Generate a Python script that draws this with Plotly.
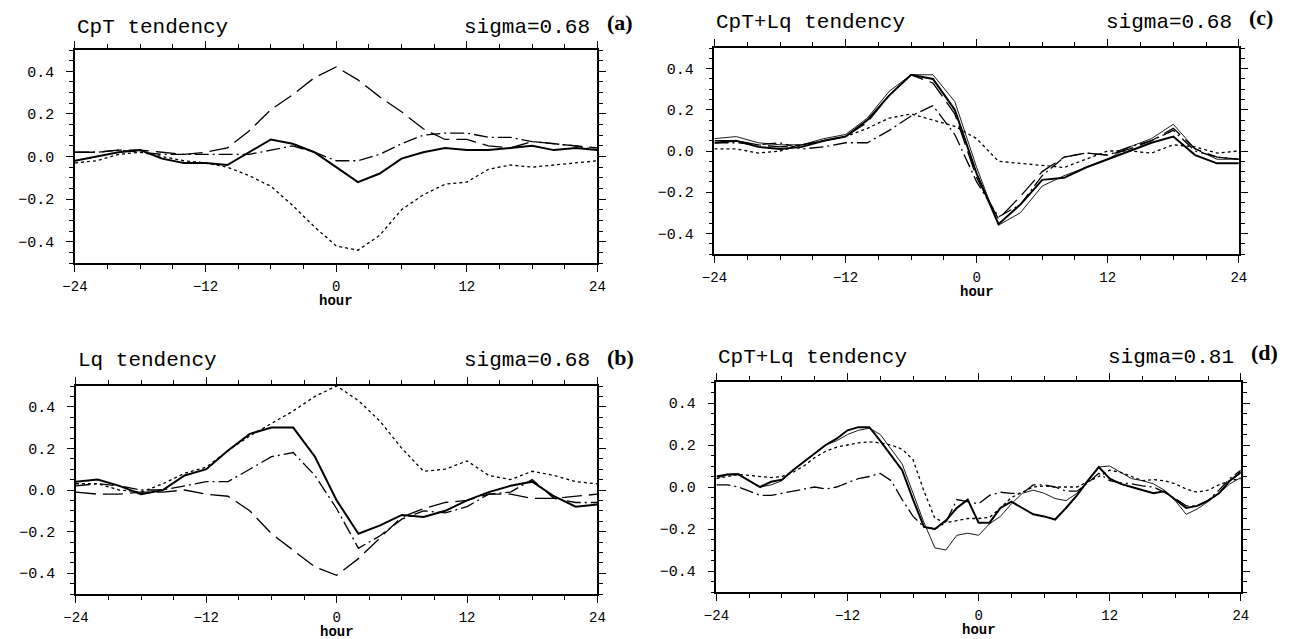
import plotly.graph_objects as go

# ---------------- data ----------------
hours_2h = list(range(-24, 25, 2))
hours_1h = list(range(-24, 25))

x_tick_vals = [-24, -12, 0, 12, 24]
x_tick_text = ["\u221224", "\u221212", "0", "12", "24"]
y_tick_vals = [-0.4, -0.2, 0.0, 0.2, 0.4]
y_tick_text = ["\u22120.4", "\u22120.2", "0.0", "0.2", "0.4"]

titles = ["CpT tendency", "CpT+Lq tendency", "Lq tendency", "CpT+Lq tendency"]
sigmas = ["sigma=0.68", "sigma=0.68", "sigma=0.68", "sigma=0.81"]
letters = ["(a)", "(c)", "(b)", "(d)"]

# (a) CpT tendency, sigma=0.68
a_dash = [0.02, 0.02, 0.03, 0.03, 0.02, 0.01, 0.02, 0.04, 0.12, 0.22, 0.29, 0.37, 0.42,
          0.36, 0.28, 0.21, 0.13, 0.08, 0.08, 0.05, 0.04, 0.07, 0.06, 0.05, 0.04]
a_solid = [-0.02, 0.0, 0.02, 0.03, -0.01, -0.03, -0.03, -0.04, 0.02, 0.08, 0.06, 0.02, -0.05,
           -0.12, -0.08, -0.01, 0.02, 0.04, 0.03, 0.03, 0.04, 0.05, 0.03, 0.04, 0.03]
a_dot = [-0.03, -0.02, 0.01, 0.02, 0.0, -0.02, -0.03, -0.05, -0.09, -0.14, -0.23, -0.33, -0.42,
         -0.44, -0.37, -0.25, -0.18, -0.13, -0.12, -0.06, -0.04, -0.05, -0.04, -0.03, -0.02]
a_dashdot = [0.02, 0.02, 0.03, 0.02, 0.01, 0.01, 0.01, 0.01, 0.01, 0.03, 0.05, 0.02, -0.02,
             -0.02, 0.01, 0.06, 0.10, 0.11, 0.11, 0.09, 0.09, 0.07, 0.06, 0.05, 0.03]

# (b) Lq tendency, sigma=0.68
b_solid = [0.04, 0.05, 0.02, -0.02, 0.0, 0.07, 0.10, 0.19, 0.27, 0.30, 0.30, 0.16, -0.05,
           -0.21, -0.17, -0.12, -0.13, -0.10, -0.05, -0.01, 0.02, 0.04, -0.03, -0.08, -0.07]
b_dot = [0.03, 0.03, 0.0, -0.01, 0.03, 0.08, 0.11, 0.19, 0.26, 0.32, 0.38, 0.45, 0.50,
         0.43, 0.33, 0.20, 0.09, 0.10, 0.14, 0.07, 0.05, 0.09, 0.07, 0.04, 0.03]
b_dash = [-0.01, -0.02, -0.02, -0.01, -0.01, 0.0, -0.02, -0.03, -0.10, -0.21, -0.29, -0.37, -0.41,
          -0.33, -0.23, -0.13, -0.09, -0.06, -0.05, -0.02, -0.02, -0.04, -0.04, -0.03, -0.02]
b_dashdot = [0.02, 0.03, 0.02, 0.0, 0.0, 0.02, 0.04, 0.04, 0.10, 0.16, 0.18, 0.07, -0.09,
             -0.28, -0.22, -0.14, -0.10, -0.11, -0.08, -0.02, -0.01, 0.05, -0.04, -0.06, -0.06]

# (c) CpT+Lq tendency, sigma=0.68
c_thick = [0.04, 0.05, 0.02, 0.01, 0.02, 0.05, 0.07, 0.15, 0.27, 0.37, 0.35, 0.20, -0.11,
           -0.355, -0.26, -0.14, -0.13, -0.08, -0.04, 0.0, 0.04, 0.07, -0.02, -0.06, -0.06]
c_thin = [0.06, 0.07, 0.04, 0.03, 0.03, 0.06, 0.08, 0.16, 0.29, 0.37, 0.37, 0.24, -0.08,
          -0.36, -0.30, -0.17, -0.12, -0.08, -0.04, 0.02, 0.06, 0.13, 0.01, -0.04, -0.04]
c_dash = [0.05, 0.05, 0.03, 0.02, 0.03, 0.05, 0.07, 0.14, 0.27, 0.37, 0.33, 0.18, -0.13,
          -0.33, -0.22, -0.10, -0.03, -0.01, -0.02, 0.01, 0.05, 0.11, 0.01, -0.03, -0.04]
c_dashdot = [0.04, 0.04, 0.03, 0.04, 0.01, 0.02, 0.04, 0.04, 0.10, 0.17, 0.22, 0.08, -0.15,
             -0.32, -0.26, -0.12, -0.03, -0.01, -0.02, 0.02, 0.05, 0.10, 0.0, -0.03, -0.04]
c_dot = [0.01, 0.01, -0.01, 0.0, 0.03, 0.05, 0.07, 0.11, 0.16, 0.18, 0.15, 0.12, 0.06,
         -0.05, -0.06, -0.07, -0.08, -0.04, 0.0, 0.0, -0.01, 0.03, 0.02, -0.01, 0.0]

# (d) CpT+Lq tendency, sigma=0.81 (hourly)
d_thick = [0.05, 0.06, 0.06, 0.03, 0.0, 0.025, 0.035, 0.08, 0.12, 0.16,
           0.20, 0.23, 0.27, 0.285, 0.285, 0.22, 0.15, 0.08, -0.06, -0.19,
           -0.20, -0.16, -0.10, -0.06, -0.17, -0.17, -0.10, -0.07, -0.10, -0.13,
           -0.14, -0.155, -0.10, -0.04, 0.03, 0.095, 0.04, 0.015, 0.0, -0.015,
           -0.03, -0.02, -0.06, -0.10, -0.09, -0.065, -0.03, 0.03, 0.07]
d_thin = [0.04, 0.06, 0.065, 0.03, 0.0, 0.01, 0.03, 0.08, 0.12, 0.16,
          0.20, 0.22, 0.25, 0.27, 0.28, 0.25, 0.18, 0.11, -0.03, -0.17,
          -0.29, -0.30, -0.23, -0.22, -0.23, -0.175, -0.14, -0.08, -0.03, -0.015,
          -0.03, -0.055, -0.065, -0.03, 0.03, 0.095, 0.10, 0.07, 0.04, 0.03,
          0.015, -0.015, -0.065, -0.13, -0.105, -0.07, -0.03, 0.015, 0.045]
d_dot = [0.04, 0.05, 0.06, 0.055, 0.05, 0.045, 0.05, 0.07, 0.10, 0.14,
         0.17, 0.19, 0.20, 0.21, 0.215, 0.21, 0.20, 0.18, 0.13, -0.02,
         -0.15, -0.17, -0.16, -0.15, -0.15, -0.145, -0.10, -0.05, -0.025, 0.0,
         0.005, 0.0, 0.0, 0.0, 0.025, 0.05, 0.08, 0.07, 0.05, 0.03,
         0.035, 0.03, 0.015, -0.01, -0.025, -0.015, 0.01, 0.03, 0.04]
d_dashdot = [0.01, 0.01, 0.0, -0.02, -0.04, -0.04, -0.03, -0.02, -0.01, 0.0,
             -0.01, 0.0, 0.02, 0.04, 0.05, 0.065, 0.03, -0.06, -0.14, -0.19,
             -0.20, -0.17, -0.06, -0.07, -0.08, -0.04, -0.025, -0.03, -0.03, 0.01,
             0.01, 0.0, -0.02, -0.02, 0.02, 0.065, 0.03, 0.02, 0.015, 0.005,
             0.0, -0.025, -0.055, -0.09, -0.09, -0.065, -0.015, 0.04, 0.08]

# ---------------- styles & layout ----------------
STYLE = {
    "thick": dict(width=2.0, dash="solid"),
    "thin": dict(width=0.9, dash="solid"),
    "dash": dict(width=1.3, dash="20px,7px"),
    "dot": dict(width=1.3, dash="3px,3px"),
    "dashdot": dict(width=1.3, dash="14px,4px,2px,4px"),
}

series = [
    (1, hours_2h, a_dash, "dash"), (1, hours_2h, a_solid, "thick"),
    (1, hours_2h, a_dot, "dot"), (1, hours_2h, a_dashdot, "dashdot"),
    (2, hours_2h, c_thick, "thick"), (2, hours_2h, c_thin, "thin"),
    (2, hours_2h, c_dash, "dash"), (2, hours_2h, c_dashdot, "dashdot"),
    (2, hours_2h, c_dot, "dot"),
    (3, hours_2h, b_solid, "thick"), (3, hours_2h, b_dot, "dot"),
    (3, hours_2h, b_dash, "dash"), (3, hours_2h, b_dashdot, "dashdot"),
    (4, hours_1h, d_thick, "thick"), (4, hours_1h, d_thin, "thin"),
    (4, hours_1h, d_dot, "dot"), (4, hours_1h, d_dashdot, "dashdot"),
]

W, H = 1298, 639
# panel boxes in pixels: left, right, top, bottom
boxes = [(63, 594, 50, 263), (713, 1246, 48, 254), (64, 594, 386, 594), (715, 1248, 382, 592)]
title_y = [28, 22, 360, 357]
letter_y = [22, 17, 357, 352]

MONO = "Liberation Mono"
fig = go.Figure()
for p, xs, ys, st in series:
    sfx = "" if p == 1 else str(p)
    fig.add_trace(go.Scatter(x=xs, y=ys, mode="lines", xaxis="x" + sfx, yaxis="y" + sfx,
                             line=dict(color="black", **STYLE[st]), hoverinfo="skip"))

layout = dict(width=W, height=H, margin=dict(l=0, r=0, t=0, b=0),
              paper_bgcolor="white", plot_bgcolor="white", showlegend=False)
annotations = []
for i, (l, r, t, b) in enumerate(boxes):
    sfx = "" if i == 0 else str(i + 1)
    xd = [l / W, r / W]
    yd = [1 - b / H, 1 - t / H]
    common = dict(showline=True, linecolor="black", linewidth=1.5, mirror="ticks",
                  ticks="outside", ticklen=7, tickwidth=1.2, tickcolor="black",
                  showgrid=False, zeroline=False)
    layout["xaxis" + sfx] = dict(domain=xd, anchor="y" + sfx, range=[-24, 24],
                                 tickmode="array", tickvals=x_tick_vals, ticktext=x_tick_text,
                                 ticklabelstandoff=2,
                                 tickfont=dict(family=MONO, size=14, color="black"),
                                 minor=dict(tickmode="linear", tick0=-24, dtick=3, ticklen=4,
                                            ticks="outside", tickcolor="black", tickwidth=1),
                                 **common)
    layout["yaxis" + sfx] = dict(domain=yd, anchor="x" + sfx, range=[-0.5, 0.5],
                                 tickmode="array", tickvals=y_tick_vals, ticktext=y_tick_text,
                                 ticklabelstandoff=9,
                                 tickfont=dict(family=MONO, size=15, color="black"),
                                 minor=dict(tickmode="linear", tick0=0, dtick=0.05, ticklen=4,
                                            ticks="outside", tickcolor="black", tickwidth=1),
                                 **common)
    annotations.append(dict(text=titles[i], x=l / W, y=1 - title_y[i] / H, xref="paper", yref="paper",
                            xanchor="left", yanchor="middle", showarrow=False,
                            font=dict(family=MONO, size=21, color="black")))
    annotations.append(dict(text=sigmas[i], x=(r - 5) / W, y=1 - title_y[i] / H, xref="paper", yref="paper",
                            xanchor="right", yanchor="middle", showarrow=False,
                            font=dict(family=MONO, size=21, color="black")))
    annotations.append(dict(text="<b>" + letters[i] + "</b>", x=(r + 8) / W, y=1 - letter_y[i] / H,
                            xref="paper", yref="paper", xanchor="left", yanchor="middle", showarrow=False,
                            font=dict(family="Liberation Serif", size=22, color="black")))
    annotations.append(dict(text="<b>hour</b>", x=(l + r) / 2 / W, y=1 - (b + 38) / H, xref="paper",
                            yref="paper", xanchor="center", yanchor="middle", showarrow=False,
                            borderpad=0,
                            font=dict(family=MONO, size=14, color="black")))
layout["annotations"] = annotations
fig.update_layout(**layout)
fig.write_html("out.html")
